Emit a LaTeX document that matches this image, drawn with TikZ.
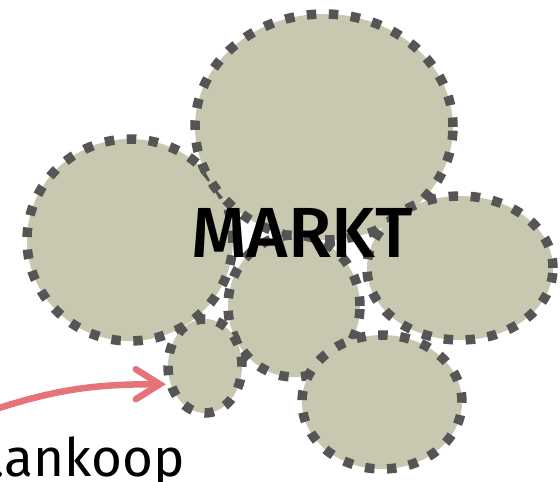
\documentclass[tikz,border=0pt]{standalone}
\usepackage{fontspec}
\setmainfont{Fira Sans}
\newfontfamily\medfont{Fira Sans Medium}
\definecolor{blobfill}{RGB}{200,200,177}
\definecolor{blobline}{RGB}{85,85,85}
\definecolor{arrowpink}{RGB}{230,115,120}
\usetikzlibrary{shapes.geometric,arrows.meta}

\begin{document}
\begin{tikzpicture}[x=1pt, y=1pt,
    blob/.style={ellipse, draw=blobline, fill=blobfill, line width=9.5pt,
        dash pattern=on 9.5pt off 12.5pt, inner sep=0pt}]
    \useasboundingbox (0,0) rectangle (560,482);

    % Market segments
    \node[blob, minimum width=206pt, minimum height=202pt] (segL) at (130,242) {};
    \node[blob, minimum width=258pt, minimum height=226pt] (segT) at (324,355) {};
    \node[blob, minimum width=186pt, minimum height=144pt] (segR) at (460,214) {};
    \node[blob, minimum width=132pt, minimum height=142pt] (segM) at (294,176) {};
    \node[blob, minimum width=74pt, minimum height=94pt] (segS) at (205,116) {};
    \node[blob, minimum width=160pt, minimum height=134pt] (segB) at (382,80) {};

    % Label
    \node[anchor=base, inner sep=0pt, font=\medfont\fontsize{71}{71}\selectfont] (markt) at (302,224) {MARKT};

    % Acquisition arrow
    \coordinate (src) at (-4,73);
    \node[anchor=base east, inner sep=0pt, font=\fontsize{53}{53}\selectfont] (aankoop) at (185,5) {aankoop};
    \draw[arrowpink, line width=6.5pt, line cap=round,
        -{Straight Barb[length=24pt, width=30pt, line cap=round]}]
        (src) to[out=18, in=180] (segS.205);
\end{tikzpicture}
\end{document}
